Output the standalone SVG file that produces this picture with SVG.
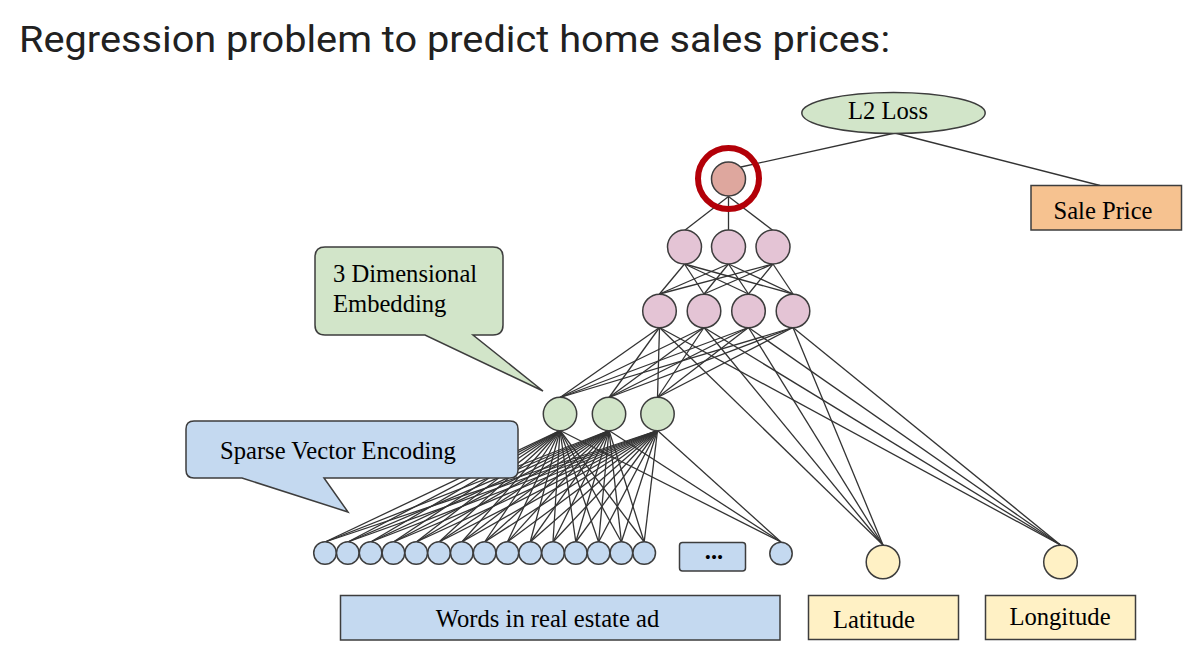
<svg xmlns="http://www.w3.org/2000/svg" width="1204" height="656" viewBox="0 0 1204 656">
<style>
.t{font-family:"Liberation Serif","Times New Roman",serif;font-size:24.6px;fill:#000}
.c{stroke:#3d3d3d;stroke-width:1.5}
.e line{stroke:#333;stroke-width:1.3}
.pink{fill:#e4c4d5}
.green{fill:#d2e5c9}
.blue{fill:#c4d9f0}
.yellow{fill:#fff1c5}
</style>
<rect width="1204" height="656" fill="#fff"/>
<text x="19" y="52" font-family="Roboto,'Liberation Sans',sans-serif" font-size="37" fill="#212121" textLength="871" lengthAdjust="spacingAndGlyphs">Regression problem to predict home sales prices:</text>
<g id="connectors" class="e">
<line x1="895" y1="133" x2="741" y2="167"/>
<line x1="895" y1="133" x2="1100" y2="185.5"/>
<line x1="728.5" y1="196.5" x2="684.5" y2="230.5"/>
<line x1="728.5" y1="196.5" x2="728.5" y2="230.5"/>
<line x1="728.5" y1="196.5" x2="773" y2="230.5"/>
<line x1="684.5" y1="264" x2="659.5" y2="294"/>
<line x1="684.5" y1="264" x2="704" y2="294"/>
<line x1="684.5" y1="264" x2="748.5" y2="294"/>
<line x1="684.5" y1="264" x2="793" y2="294"/>
<line x1="728.5" y1="264" x2="659.5" y2="294"/>
<line x1="728.5" y1="264" x2="704" y2="294"/>
<line x1="728.5" y1="264" x2="748.5" y2="294"/>
<line x1="728.5" y1="264" x2="793" y2="294"/>
<line x1="773" y1="264" x2="659.5" y2="294"/>
<line x1="773" y1="264" x2="704" y2="294"/>
<line x1="773" y1="264" x2="748.5" y2="294"/>
<line x1="773" y1="264" x2="793" y2="294"/>
<line x1="659.5" y1="327.5" x2="560" y2="397.5"/>
<line x1="659.5" y1="327.5" x2="609" y2="397.5"/>
<line x1="659.5" y1="327.5" x2="657.5" y2="397.5"/>
<line x1="704" y1="327.5" x2="560" y2="397.5"/>
<line x1="704" y1="327.5" x2="609" y2="397.5"/>
<line x1="704" y1="327.5" x2="657.5" y2="397.5"/>
<line x1="748.5" y1="327.5" x2="560" y2="397.5"/>
<line x1="748.5" y1="327.5" x2="609" y2="397.5"/>
<line x1="748.5" y1="327.5" x2="657.5" y2="397.5"/>
<line x1="793" y1="327.5" x2="560" y2="397.5"/>
<line x1="793" y1="327.5" x2="609" y2="397.5"/>
<line x1="793" y1="327.5" x2="657.5" y2="397.5"/>
<line x1="659.5" y1="327.5" x2="883" y2="545"/>
<line x1="704" y1="327.5" x2="883" y2="545"/>
<line x1="748.5" y1="327.5" x2="883" y2="545"/>
<line x1="793" y1="327.5" x2="883" y2="545"/>
<line x1="659.5" y1="327.5" x2="1060.5" y2="545"/>
<line x1="704" y1="327.5" x2="1060.5" y2="545"/>
<line x1="748.5" y1="327.5" x2="1060.5" y2="545"/>
<line x1="793" y1="327.5" x2="1060.5" y2="545"/>
<line x1="560" y1="430.5" x2="325" y2="542"/>
<line x1="560" y1="430.5" x2="347.8" y2="542"/>
<line x1="560" y1="430.5" x2="370.6" y2="542"/>
<line x1="560" y1="430.5" x2="393.4" y2="542"/>
<line x1="560" y1="430.5" x2="416.2" y2="542"/>
<line x1="560" y1="430.5" x2="439" y2="542"/>
<line x1="560" y1="430.5" x2="461.8" y2="542"/>
<line x1="560" y1="430.5" x2="484.6" y2="542"/>
<line x1="560" y1="430.5" x2="507.4" y2="542"/>
<line x1="560" y1="430.5" x2="530.2" y2="542"/>
<line x1="560" y1="430.5" x2="553" y2="542"/>
<line x1="560" y1="430.5" x2="575.8" y2="542"/>
<line x1="560" y1="430.5" x2="598.6" y2="542"/>
<line x1="560" y1="430.5" x2="621.4" y2="542"/>
<line x1="560" y1="430.5" x2="644.2" y2="542"/>
<line x1="560" y1="430.5" x2="781" y2="542"/>
<line x1="609" y1="430.5" x2="325" y2="542"/>
<line x1="609" y1="430.5" x2="347.8" y2="542"/>
<line x1="609" y1="430.5" x2="370.6" y2="542"/>
<line x1="609" y1="430.5" x2="393.4" y2="542"/>
<line x1="609" y1="430.5" x2="416.2" y2="542"/>
<line x1="609" y1="430.5" x2="439" y2="542"/>
<line x1="609" y1="430.5" x2="461.8" y2="542"/>
<line x1="609" y1="430.5" x2="484.6" y2="542"/>
<line x1="609" y1="430.5" x2="507.4" y2="542"/>
<line x1="609" y1="430.5" x2="530.2" y2="542"/>
<line x1="609" y1="430.5" x2="553" y2="542"/>
<line x1="609" y1="430.5" x2="575.8" y2="542"/>
<line x1="609" y1="430.5" x2="598.6" y2="542"/>
<line x1="609" y1="430.5" x2="621.4" y2="542"/>
<line x1="609" y1="430.5" x2="644.2" y2="542"/>
<line x1="609" y1="430.5" x2="781" y2="542"/>
<line x1="657.5" y1="430.5" x2="325" y2="542"/>
<line x1="657.5" y1="430.5" x2="347.8" y2="542"/>
<line x1="657.5" y1="430.5" x2="370.6" y2="542"/>
<line x1="657.5" y1="430.5" x2="393.4" y2="542"/>
<line x1="657.5" y1="430.5" x2="416.2" y2="542"/>
<line x1="657.5" y1="430.5" x2="439" y2="542"/>
<line x1="657.5" y1="430.5" x2="461.8" y2="542"/>
<line x1="657.5" y1="430.5" x2="484.6" y2="542"/>
<line x1="657.5" y1="430.5" x2="507.4" y2="542"/>
<line x1="657.5" y1="430.5" x2="530.2" y2="542"/>
<line x1="657.5" y1="430.5" x2="553" y2="542"/>
<line x1="657.5" y1="430.5" x2="575.8" y2="542"/>
<line x1="657.5" y1="430.5" x2="598.6" y2="542"/>
<line x1="657.5" y1="430.5" x2="621.4" y2="542"/>
<line x1="657.5" y1="430.5" x2="644.2" y2="542"/>
<line x1="657.5" y1="430.5" x2="781" y2="542"/>
</g>
<g id="l2-loss">
<ellipse class="c" cx="893.5" cy="113" rx="91.7" ry="20.5" fill="#d2e5c9"/>
<text class="t" x="888" y="118.5" text-anchor="middle">L2 Loss</text>
</g>
<g id="sale-price">
<rect class="c" x="1031" y="185.5" width="150.5" height="44.5" fill="#f6c290"/>
<text class="t" x="1103" y="218.5" text-anchor="middle">Sale Price</text>
</g>
<g id="output">
<circle class="c" cx="728.5" cy="179" r="17" fill="#dea79e"/>
<circle cx="728.5" cy="178.5" r="30.5" fill="none" stroke="#b30008" stroke-width="6"/>
</g>
<g id="hidden1">
<circle class="c pink" cx="684.5" cy="247" r="17"/>
<circle class="c pink" cx="728.5" cy="247" r="17"/>
<circle class="c pink" cx="773" cy="247" r="17"/>
</g>
<g id="hidden2">
<circle class="c pink" cx="659.5" cy="311" r="16.8"/>
<circle class="c pink" cx="704" cy="311" r="16.8"/>
<circle class="c pink" cx="748.5" cy="311" r="16.8"/>
<circle class="c pink" cx="793" cy="311" r="16.8"/>
</g>
<g id="embedding">
<circle class="c green" cx="560" cy="414" r="16.7"/>
<circle class="c green" cx="609" cy="414" r="16.7"/>
<circle class="c green" cx="657.5" cy="414" r="16.7"/>
</g>
<g id="callout-embedding">
<path class="c" fill="#d2e5c9" d="M325,247 H493 Q503,247 503,257 V325 Q503,335 493,335 H473 L543,391 L425,335 H325 Q315,335 315,325 V257 Q315,247 325,247 Z"/>
<text class="t" x="333" y="282">3 Dimensional</text>
<text class="t" x="333" y="312">Embedding</text>
</g>
<g id="callout-sparse">
<path class="c" fill="#c4d9f0" d="M194,421 H510 Q518,421 518,429 V470 Q518,478 510,478 H324 L348,512 L242,478 H194 Q186,478 186,470 V429 Q186,421 194,421 Z"/>
<text class="t" x="220" y="459">Sparse Vector Encoding</text>
</g>
<g id="inputs">
<circle class="c blue" cx="325" cy="553" r="11.3"/>
<circle class="c blue" cx="347.8" cy="553" r="11.3"/>
<circle class="c blue" cx="370.6" cy="553" r="11.3"/>
<circle class="c blue" cx="393.4" cy="553" r="11.3"/>
<circle class="c blue" cx="416.2" cy="553" r="11.3"/>
<circle class="c blue" cx="439" cy="553" r="11.3"/>
<circle class="c blue" cx="461.8" cy="553" r="11.3"/>
<circle class="c blue" cx="484.6" cy="553" r="11.3"/>
<circle class="c blue" cx="507.4" cy="553" r="11.3"/>
<circle class="c blue" cx="530.2" cy="553" r="11.3"/>
<circle class="c blue" cx="553" cy="553" r="11.3"/>
<circle class="c blue" cx="575.8" cy="553" r="11.3"/>
<circle class="c blue" cx="598.6" cy="553" r="11.3"/>
<circle class="c blue" cx="621.4" cy="553" r="11.3"/>
<circle class="c blue" cx="644.2" cy="553" r="11.3"/>
<circle class="c blue" cx="781" cy="553.5" r="11.2"/>
</g>
<g id="ellipsis">
<rect class="c blue" x="679.5" y="542.5" width="66" height="28.5" rx="3"/>
<text class="t" x="714" y="559" text-anchor="middle" font-weight="bold">...</text>
</g>
<g id="words">
<rect class="c blue" x="340.5" y="595.5" width="439.5" height="44.5"/>
<text class="t" x="547.5" y="627" text-anchor="middle">Words in real estate ad</text>
</g>
<g id="latitude-node">
<circle class="c yellow" cx="883" cy="562" r="16.8"/>
</g>
<g id="longitude-node">
<circle class="c yellow" cx="1060.5" cy="562" r="16.8"/>
</g>
<g id="latitude">
<rect class="c yellow" x="808.5" y="595.5" width="150" height="44"/>
<text class="t" x="874" y="628" text-anchor="middle">Latitude</text>
</g>
<g id="longitude">
<rect class="c yellow" x="985.5" y="595.5" width="150" height="44"/>
<text class="t" x="1060" y="625" text-anchor="middle">Longitude</text>
</g>
</svg>
